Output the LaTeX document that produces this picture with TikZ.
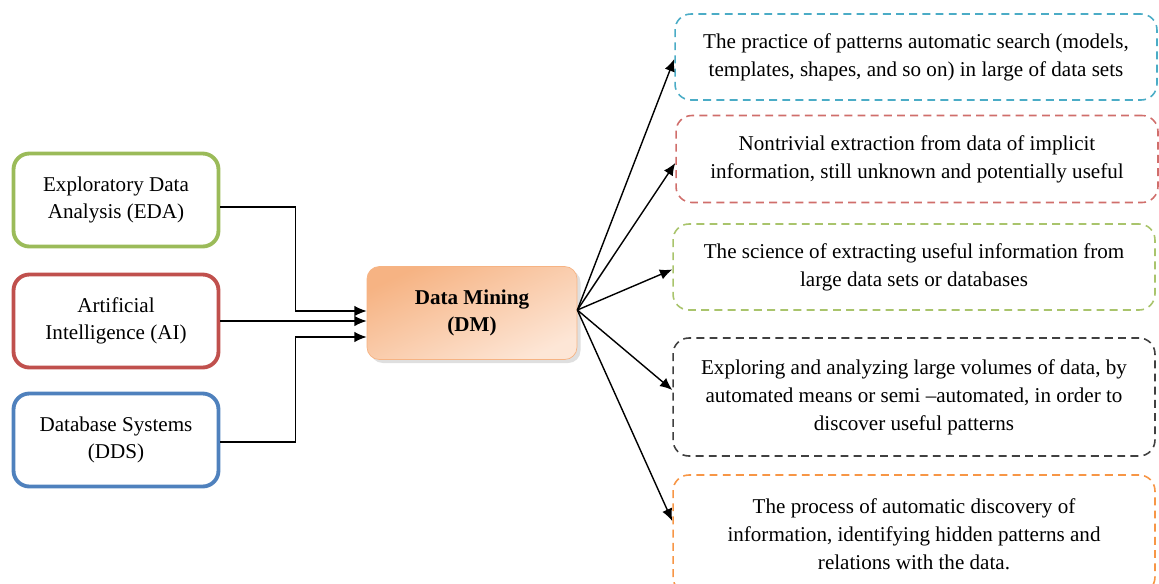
\documentclass[tikz,border=0pt]{standalone}
\usepackage{fontspec}
\setmainfont{Liberation Serif}
\usepackage{xcolor}
\usetikzlibrary{arrows,arrows.meta,calc,positioning,shadows,shapes}
\definecolor{edagreen}{HTML}{9BBB59}
\definecolor{aired}{HTML}{C0504D}
\definecolor{ddsblue}{HTML}{4F81BD}
\definecolor{dmdark}{HTML}{F6B383}
\definecolor{dmlight}{HTML}{FDE6D6}
\definecolor{defcyan}{HTML}{4BACC6}
\definecolor{defred}{HTML}{D06E6B}
\definecolor{defgreen}{HTML}{A9C46C}
\definecolor{defgray}{HTML}{404040}
\definecolor{deforange}{HTML}{F79646}
\tikzset{%
	source/.style  = {draw, rectangle, rounded corners=9pt, line width=2.2pt, minimum width=4.1cm, minimum height=1.86cm, text centered, align=center, font=\fontsize{12}{15}\selectfont},
	mining/.style  = {draw=dmdark, rectangle, rounded corners=7pt, minimum width=4.2cm, minimum height=1.86cm, top color=dmdark, bottom color=dmlight, shading angle=25, drop shadow={shadow xshift=2pt, shadow yshift=-2pt, opacity=0.25}, text centered, align=center, font=\fontsize{12}{15}\selectfont\bfseries},
	meaning/.style = {draw, rectangle, rounded corners=9pt, line width=0.9pt, dash pattern=on 4.5pt off 3pt, minimum width=9.64cm, text centered, align=center, font=\fontsize{12}{16}\selectfont},
	arrow/.style   = {line width=0.8pt,-{Latex[length=7pt,width=6pt]}},
}
\begin{document}
\begin{tikzpicture}[x=0.02cm,y=-0.02cm]
		\useasboundingbox (0,0) rectangle (1159,583);
		
		\node[source, draw=edagreen] (eda) at (116,200) {Exploratory Data\\Analysis (EDA)};
		\node[source, draw=aired] (ai) at (116,321) {Artificial\\Intelligence (AI)};
		\node[source, draw=ddsblue] (dds) at (116,440) {Database Systems\\(DDS)};
		
		\node[mining] (dm) at (472,313) {Data Mining\\(DM)};
		
		\node[meaning, draw=defcyan, minimum height=1.72cm] (b1) at (916,57) {The practice of patterns automatic search (models,\\templates, shapes, and so on) in large of data sets};
		\node[meaning, draw=defred, minimum height=1.74cm] (b2) at (917,159) {Nontrivial extraction from data of implicit\\information, still unknown and potentially useful};
		\node[meaning, draw=defgreen, minimum height=1.72cm] (b3) at (914,267) {The science of extracting useful information from\\large data sets or databases};
		\node[meaning, draw=defgray, minimum height=2.36cm] (b4) at (914,397) {Exploring and analyzing large volumes of data, by\\automated means or semi –automated, in order to\\discover useful patterns};
		\node[meaning, draw=deforange, minimum height=2.36cm] (b5) at (914,534) {The process of automatic discovery of\\information, identifying hidden patterns and\\relations with the data.};
		
		\draw[arrow] ([yshift=-0.14cm]eda.east) -- ++(75,0) |- ([yshift=0.04cm]dm.west);
		\draw[arrow] (ai.east) -- (ai.east -| dm.west);
		\draw[arrow] ([yshift=-0.04cm]dds.east) -- ++(75,0) |- ([yshift=-0.48cm]dm.west);
		
		\foreach \b/\s in {b1/-0.04,b2/-0.08,b3/-0.05,b4/0.14,b5/0.26} \draw[arrow] ([yshift=0.06cm]dm.east) -- ([yshift=\s cm]\b.west);
	\end{tikzpicture}
\end{document}
